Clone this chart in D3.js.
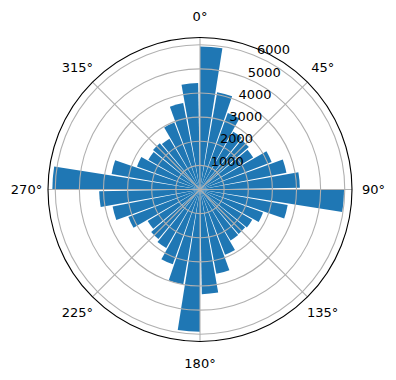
<!DOCTYPE html>
<meta charset="utf-8">
<body style="margin:0">
<svg width="396" height="380"></svg>
<script src="https://cdn.jsdelivr.net/npm/d3@7"></script>
<script>
  // bin start angles (degrees, clockwise from north) and counts
  var angles = [0, 10, 20, 30, 40, 50, 60, 70, 80,
                90, 100, 110, 120, 130, 140, 150, 160, 170,
                180, 190, 200, 210, 220, 230, 240, 250, 260,
                270, 280, 290, 300, 310, 320, 330, 340, 350];
  var counts = [5930, 4090, 3370, 2760, 2680, 2570, 3180, 3650, 4140,
                5970, 3690, 2780, 2500, 2440, 2460, 2900, 3560, 4340,
                5900, 3990, 3300, 2800, 2680, 2530, 3180, 3690, 4180,
                6120, 3720, 2780, 2470, 2540, 2460, 2970, 3650, 4410];
  var radialTicks = [1000, 2000, 3000, 4000, 5000, 6000];
  var angleTicks = [0, 45, 90, 135, 180, 225, 270, 315];
  var barWidthDeg = 9;

  var svg = d3.select("svg");
  var cx = 200, cy = 189.5, R = 152;
  var g = svg.append('g').attr('transform', 'translate(' + cx + ',' + cy + ')');

  var r = d3.scaleLinear().domain([0, 6300]).range([0, R]);
  var rad = function (deg) { return deg * Math.PI / 180; };

  // bars
  var arc = d3.arc()
    .innerRadius(0)
    .outerRadius(function (d) { return r(d.v); })
    .startAngle(function (d) { return rad(d.a); })
    .endAngle(function (d) { return rad(d.a + barWidthDeg); });

  g.selectAll('.bar')
    .data(angles.map(function (a, i) { return {a: a, v: counts[i]}; }))
    .enter().append('path')
    .attr('class', 'bar')
    .attr('d', arc)
    .attr('fill', '#1f77b4');

  // grid (drawn over the bars)
  g.selectAll('.rgrid')
    .data(radialTicks)
    .enter().append('circle')
    .attr('r', function (d) { return r(d); })
    .attr('fill', 'none')
    .attr('stroke', '#b0b0b0')
    .attr('stroke-width', 1.1);

  g.selectAll('.tgrid')
    .data(angleTicks)
    .enter().append('line')
    .attr('x1', 0).attr('y1', 0)
    .attr('x2', function (d) { return R * Math.sin(rad(d)); })
    .attr('y2', function (d) { return -R * Math.cos(rad(d)); })
    .attr('stroke', '#b0b0b0')
    .attr('stroke-width', 1.1);

  g.append('circle')
    .attr('r', R)
    .attr('fill', 'none')
    .attr('stroke', '#000')
    .attr('stroke-width', 1.1);

  // labels
  var font = '"DejaVu Sans", sans-serif';
  g.selectAll('.tlabel')
    .data(angleTicks)
    .enter().append('text')
    .attr('x', function (d) { return 173.5 * Math.sin(rad(d)); })
    .attr('y', function (d) { return -173.5 * Math.cos(rad(d)); })
    .attr('dy', '0.36em')
    .attr('text-anchor', 'middle')
    .style('font-family', font)
    .style('font-size', '13px')
    .text(function (d) { return d + '°'; });

  var labelAngle = rad(22.5);
  g.selectAll('.rlabel')
    .data(radialTicks)
    .enter().append('text')
    .attr('x', function (d) { return r(d) * Math.sin(labelAngle) + 1.5; })
    .attr('y', function (d) { return -r(d) * Math.cos(labelAngle) - 1.5; })
    .attr('text-anchor', 'start')
    .style('font-family', font)
    .style('font-size', '13px')
    .text(function (d) { return d; });
</script>
</body>
